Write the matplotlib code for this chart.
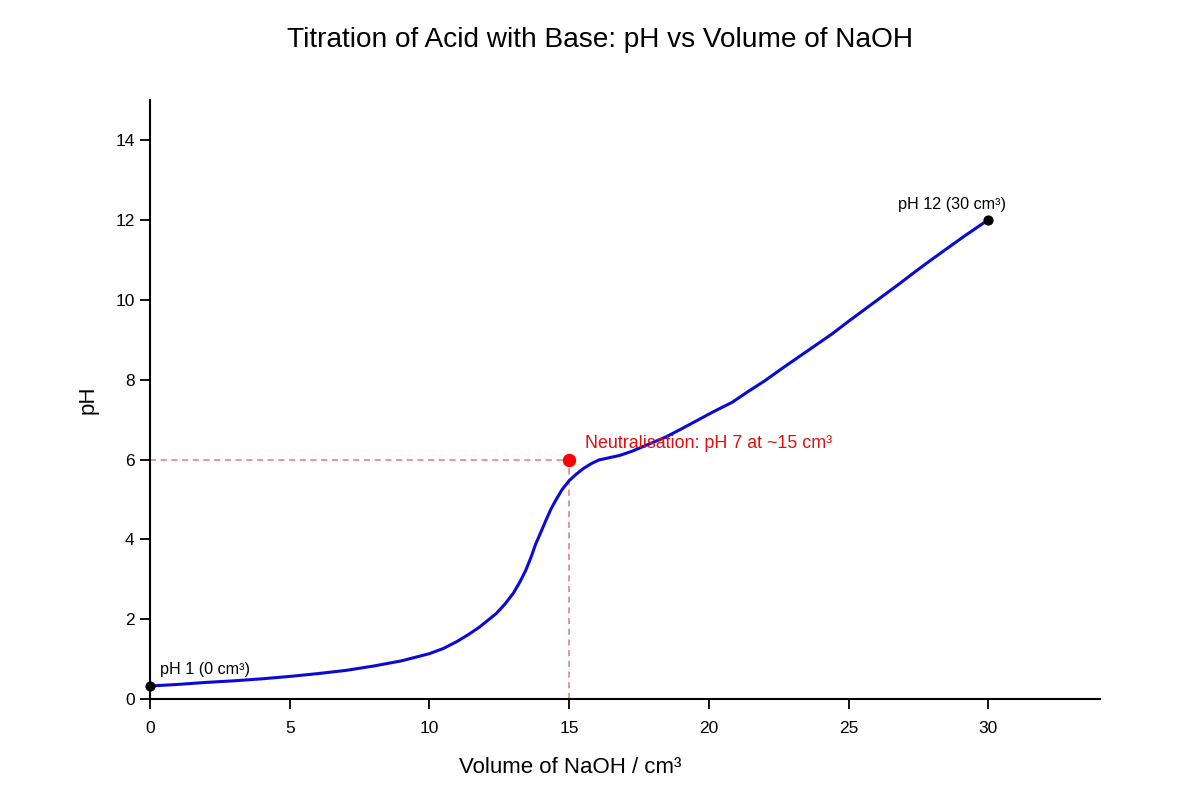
import matplotlib
matplotlib.use("Agg")
import matplotlib.pyplot as plt

plt.rcParams['font.family'] = ['Liberation Sans', 'DejaVu Sans']

# values
volume = [0, 1, 2, 3, 4, 5, 6, 7, 8, 9, 10, 10.5, 11, 11.4, 11.8, 12.1, 12.4,
          12.7, 13.0, 13.25, 13.45, 13.65, 13.8, 14.0, 14.17, 14.35, 14.52, 14.75,
          15.0, 15.25, 15.5, 15.8, 16.07, 16.4, 16.8, 17.26, 17.8, 18.45, 19.0,
          19.64, 20.2, 20.83, 21.4, 22.0, 22.6, 23.2, 23.8, 24.4, 25.0, 25.6,
          26.2, 26.8, 27.4, 28.0, 28.6, 29.2, 30]
ph = [0.33, 0.37, 0.42, 0.46, 0.51, 0.57, 0.64, 0.72, 0.83, 0.96, 1.14, 1.27,
      1.45, 1.62, 1.81, 1.98, 2.15, 2.38, 2.65, 2.95, 3.23, 3.58, 3.88, 4.20,
      4.48, 4.76, 4.98, 5.25, 5.47, 5.63, 5.77, 5.90, 5.99, 6.04, 6.10, 6.21,
      6.37, 6.56, 6.76, 7.00, 7.21, 7.43, 7.70, 7.97, 8.27, 8.56, 8.85, 9.14,
      9.46, 9.77, 10.08, 10.39, 10.71, 11.02, 11.32, 11.62, 12.0]

neutral_vol = 15
neutral_ph = 6
start_label = "pH 1 (0 cm³)"
end_label = "pH 12 (30 cm³)"
neutral_label = "Neutralisation: pH 7 at ~15 cm³"

fig = plt.figure(figsize=(12, 8), dpi=100)
ax = fig.add_axes([0.125, 0.126, 0.7917, 0.749])

ax.plot(volume, ph, color='#0a0ad6', linewidth=2.2, zorder=3,
        solid_joinstyle='round', solid_capstyle='round')

# guide lines to the neutralisation point
ax.plot([0, neutral_vol], [neutral_ph, neutral_ph], color='#e06060', linestyle=(0, (4, 3)),
        linewidth=1.1, alpha=0.85, zorder=2)
ax.plot([neutral_vol, neutral_vol], [0, neutral_ph], color='#e06060', linestyle=(0, (4, 3)),
        linewidth=1.1, alpha=0.85, zorder=2)
ax.scatter([neutral_vol], [neutral_ph], s=75, color='#ff0000', zorder=5, clip_on=False)
ax.text(neutral_vol + 0.55, neutral_ph + 0.4, neutral_label, color='#e01010', fontsize=12.9,
        ha='left', va='center')

ax.scatter([volume[0], volume[-1]], [ph[0], ph[-1]], s=40, color='black', zorder=5, clip_on=False)
ax.text(volume[0] + 0.35, ph[0] + 0.42, start_label, fontsize=11.6, ha='left', va='center')
ax.text(volume[-1] - 1.3, ph[-1] + 0.38, end_label, fontsize=11.6, ha='center', va='center')

ax.set_xlim(0, 34)
ax.set_ylim(0, 15)
ax.set_xticks([0, 5, 10, 15, 20, 25, 30])
ax.set_yticks([0, 2, 4, 6, 8, 10, 12, 14])
ax.tick_params(direction='out', length=7, width=1.3, labelsize=12.5)
ax.tick_params(axis='x', pad=9)
ax.tick_params(axis='y', pad=4)

for side in ['top', 'right']:
    ax.spines[side].set_visible(False)
for side in ['left', 'bottom']:
    ax.spines[side].set_linewidth(1.5)

ax.set_xlabel("Volume of NaOH / cm³", fontsize=16, labelpad=15, x=0.442)
ax.set_ylabel("pH", fontsize=16, labelpad=12)
fig.suptitle("Titration of Acid with Base: pH vs Volume of NaOH", fontsize=20.2, y=0.966)

fig.savefig("out.png", dpi=100)
